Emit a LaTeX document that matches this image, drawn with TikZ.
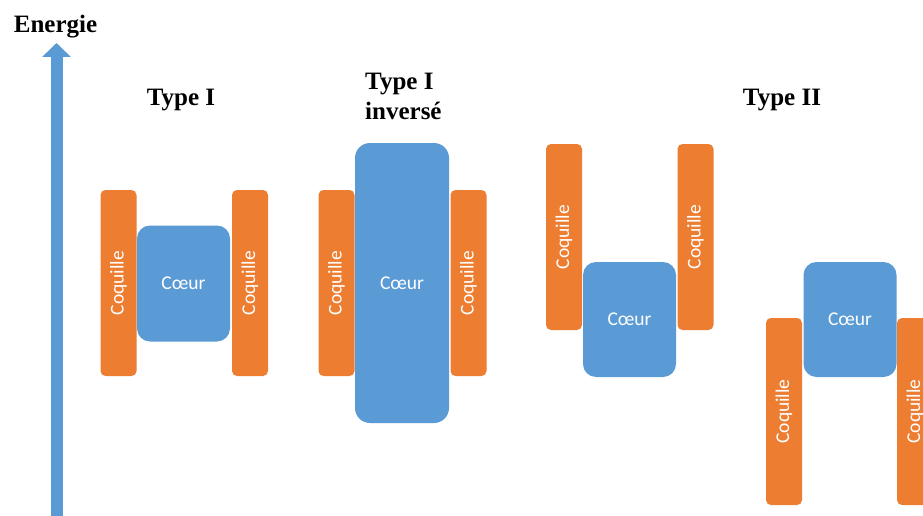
\documentclass[tikz,border=0pt]{standalone}
\usepackage{fontspec}
\setmainfont{Liberation Serif}
\newfontfamily\carlito{Carlito}
\usetikzlibrary{arrows.meta}
\definecolor{offorange}{HTML}{ED7D31}
\definecolor{offblue}{HTML}{5B9BD5}
\tikzset{
  coq/.style={rotate=90, fill=offorange, draw=none, rounded corners=5pt, minimum width=186pt, minimum height=36pt, inner sep=0pt, text=white, font=\carlito\fontsize{19.5}{22}\selectfont},
  core/.style={fill=offblue, draw=none, rounded corners=13pt, minimum width=93pt, inner sep=0pt, text=white, font=\carlito\fontsize{19.5}{22}\selectfont},
  ttl/.style={font=\bfseries\fontsize{25}{30}\selectfont, inner sep=0pt}
}
\begin{document}
\begin{tikzpicture}[x=1pt, y=-1pt]
\fill[white] (0,0) rectangle (923,516);
\useasboundingbox (0,0) rectangle (923,516);
% axis
\node[ttl, anchor=base] (energie) at (55.5,33) {Energie};
\coordinate (abot) at (56.5,516);
\coordinate (atop) at (56.5,43);
\draw[offblue, line width=12pt, -{Triangle[width=28pt,length=14pt]}] (abot) -- (atop);
% titles
\node[ttl, anchor=base] (t1) at (181,106) {Type I};
\node[ttl, align=left, anchor=base west] (t2) at (365,120) {Type I\\inversé};
\node[ttl, anchor=base] (t3) at (782,106) {Type II};
% Type I
\node[coq] (c1l) at (118.5,283) {Coquille};
\node[coq] (c1r) at (250,283) {Coquille};
\node[core, minimum height=116pt] (k1) at (183.5,283.5) {Cœur};
% Type I inverse
\node[coq] (c2l) at (336.5,283) {Coquille};
\node[coq] (c2r) at (468.5,283) {Coquille};
\node[core, minimum width=94pt, minimum height=280pt, rounded corners=15pt] (k2) at (402,283) {Cœur};
% Type II (a)
\node[coq] (c3l) at (564,237) {Coquille};
\node[coq] (c3r) at (695.5,237) {Coquille};
\node[core, minimum height=115pt] (k3) at (629.5,319.5) {Cœur};
% Type II (b)
\node[coq, minimum width=187pt] (c4l) at (784,411.5) {Coquille};
\node[coq, minimum width=187pt] (c4r) at (915,411.5) {Coquille};
\node[core, minimum height=115pt] (k4) at (850,319.5) {Cœur};
\end{tikzpicture}
\end{document}
